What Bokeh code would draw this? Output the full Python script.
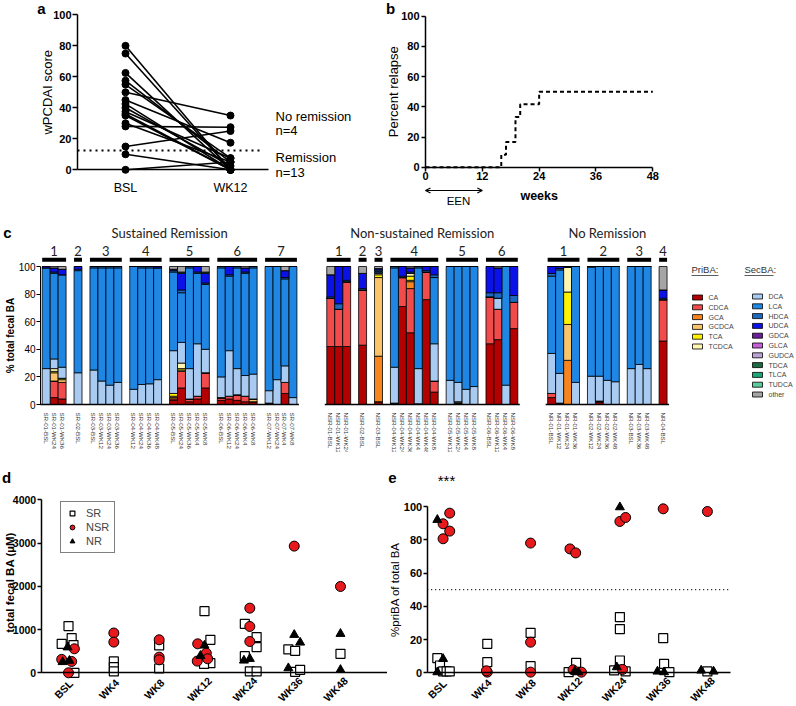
import math
from bokeh.plotting import figure
from bokeh.layouts import column, row
from bokeh.models import (Range1d, FixedTicker, Label, Arrow, OpenHead, ColumnDataSource,
                          Legend, LegendItem)
from bokeh.embed import file_html
from bokeh.resources import INLINE

FONT = "Liberation Sans"
CFONT = "Lato"

# ---------------- panel a data ----------------
A_TIMES = ["BSL", "WK12"]
A_BSL = [80, 75, 62.5, 57.5, 55, 50, 45, 42.5, 40, 37.5, 36, 35, 30, 28, 15, 10, 0]
A_WK12 = [0, 0, 0, 5, 7.5, 35, 17.5, 0, 2.5, 7.5, 0, 0, 5, 27.5, 25, 0, 5]
A_CUTOFF = 12.5

# ---------------- panel b data ----------------
B_WEEKS = [0, 16, 17, 19, 20, 24, 48]
B_RELAPSE = [0, 8.3, 16.7, 33.3, 41.7, 50, 50]
B_TICKS = [0, 12, 24, 36, 48]

# ---------------- panel c data ----------------
C_GROUPS = ["Sustained Remission", "Non-sustained Remission", "No Remission"]
C_PATIENT_SIZES = [[3, 1, 4, 4, 5, 5, 4], [3, 1, 1, 6, 4, 4], [4, 4, 3, 1]]
C_SAMPLES = [
    "SR-01-BSL", "SR-01-WK24", "SR-01-WK36", "SR-02-BSL",
    "SR-03-BSL", "SR-03-WK12", "SR-03-WK24", "SR-03-WK36",
    "SR-04-WK12", "SR-04-WK24", "SR-04-WK36", "SR-04-WK48",
    "SR-05-BSL", "SR-05-WK24", "SR-05-WK36", "SR-05-WK4", "SR-05-WK8",
    "SR-06-BSL", "SR-06-WK12", "SR-06-WK24", "SR-06-WK4", "SR-06-WK8",
    "SR-07-WK12", "SR-07-WK24", "SR-07-WK4", "SR-07-WK8",
    "NSR-01-BSL", "NSR-01-WK12", "NSR-01-WK24", "NSR-02-BSL", "NSR-03-BSL",
    "NSR-04-WK12", "NSR-04-WK24", "NSR-04-WK36", "NSR-04-WK4", "NSR-04-WK48", "NSR-04-WK8",
    "NSR-05-WK12", "NSR-05-WK24", "NSR-05-WK4", "NSR-05-WK8",
    "NSR-06-BSL", "NSR-06-WK12", "NSR-06-WK4", "NSR-06-WK8",
    "NR-01-BSL", "NR-01-WK12", "NR-01-WK24", "NR-01-WK36",
    "NR-02-WK12", "NR-02-WK24", "NR-02-WK36", "NR-02-WK48",
    "NR-03-BSL", "NR-03-WK36", "NR-03-WK48", "NR-04-BSL",
]
CA    = [0, 5, 4, 0, 0, 0, 0, 0, 0, 0, 0, 0, 3, 12, 2, 4, 12, 3, 4, 3, 2, 2, 1, 0, 8, 0,
         42, 42, 42, 43, 2, 1, 71, 52, 0.5, 76, 9, 0, 1, 0, 0, 44, 47, 0, 55,
         5, 1, 0, 0, 0, 1.5, 0, 0, 0, 0, 0, 46]
CDCA  = [0, 12, 12, 0, 0, 0, 0, 0, 0, 0, 0, 0, 1, 12, 2, 2, 11, 1.5, 2, 4, 4, 0, 0, 0, 8, 0,
         35, 27, 47, 40, 0, 0, 21, 32, 0, 20, 8, 0, 0, 0, 0, 34, 22, 0, 19,
         3, 0, 0, 0, 0, 1, 0, 0, 0, 0, 0, 30]
GCA   = [0, 0, 0, 0, 0, 0, 0, 0, 0, 0, 0, 0, 1, 0, 0, 0, 0, 0.5, 0, 0, 0, 0, 0, 0, 0, 0,
         0, 0, 0, 0, 33, 0, 0, 5, 0, 0, 0, 0, 0, 0, 0, 0, 0, 0, 0,
         0, 0, 32, 0, 0, 0, 0, 0, 0, 0, 0, 0]
GCDCA = [0, 6, 2, 0, 0, 0, 0, 0, 0, 0, 0, 0, 1, 1, 0, 0, 0, 0, 0, 0, 0, 2, 0, 0, 0, 0,
         0, 0, 0, 0, 57, 0, 0, 1, 0, 0, 0, 0, 1, 0, 0, 0, 0, 0, 0,
         0, 0, 26, 0, 0, 0, 0, 0, 0, 0, 0, 0]
TCA   = [0, 1, 1, 0, 0, 0, 0, 0, 0, 0, 0, 0, 2, 1, 0, 0, 0, 0, 0, 0, 0, 0, 0, 0, 0, 0,
         0, 0, 0, 0, 2, 0, 0, 3, 0, 0, 0, 0, 0, 0, 0, 0, 0, 0, 0,
         0, 0, 23.5, 0, 0, 0, 0, 0, 0, 0, 0, 0]
TCDCA = [0, 2, 0, 0, 0, 0, 0, 0, 0, 0, 0, 0, 0, 4, 0, 0, 0, 0, 0, 0, 0, 0, 0, 0, 0, 0,
         0, 0, 0, 0, 1, 0, 0, 2, 0, 0, 0, 0, 0, 0, 0, 0, 0, 0, 0,
         0, 0, 18, 0, 0, 0, 0, 0, 0, 0, 0, 0]
DCA   = [26, 7, 8, 23, 25, 17, 14, 16, 11, 14.5, 15, 18, 31, 15, 22, 38, 17, 15, 33, 19, 15, 18, 9, 18, 12, 5,
         0, 0, 0, 0, 0.5, 26, 0, 0, 25.5, 0, 27, 17.5, 14, 11, 13, 0, 8, 14, 0,
         29, 21.5, 0, 16, 20.5, 18, 17.5, 16.5, 26, 29, 26, 0]
LCA   = [73, 62, 67, 74, 74, 82, 85, 83, 89, 84.5, 84, 81, 57, 36, 73, 51, 47, 79, 54, 73, 74, 77, 90, 82, 63, 95,
         0, 0, 0, 0, 1, 72, 0, 0, 73, 0, 48, 82.5, 84, 89, 87, 0, 0, 86, 0,
         56, 75, 0, 84, 79, 79.5, 82.5, 83.5, 74, 71, 74, 0]
HDCA  = [0, 1, 0, 1, 1, 1, 1, 1, 0, 1, 1, 0, 1, 2, 1, 1, 1, 1, 1, 1, 1, 1, 0, 0, 1, 0,
         1, 4, 1, 1, 1, 1, 1, 1, 1, 1, 2, 0, 0, 0, 0, 3, 4, 0, 5,
         2, 1, 0.5, 0, 0.5, 0, 0, 0, 0, 0, 0, 1]
UDCA  = [1, 3, 4, 2, 0, 0, 0, 0, 0, 0, 0, 1, 1, 12, 0, 4, 7, 0, 6, 0, 3, 0, 0, 0, 5, 0,
         16, 27, 10, 11, 1, 0, 7, 3, 0, 3, 6, 0, 0, 0, 0, 19, 18, 0, 21,
         5, 1.5, 0, 0, 0, 0, 0, 0, 0, 0, 0, 6]
TDCA  = [0, 0, 0, 0, 0, 0, 0, 0, 0, 0, 0, 0, 0, 1, 0, 0, 1, 0, 0, 0, 0, 0, 0, 0, 0, 0,
         0, 0, 0, 0, 0, 0, 0, 0, 0, 0, 0, 0, 0, 0, 0, 0, 0, 0, 0,
         0, 0, 0, 0, 0, 0, 0, 0, 0, 0, 0, 0]
OTHER = [0, 1, 2, 0, 0, 0, 0, 0, 0, 0, 0, 0, 2, 4, 0, 0, 4, 0, 0, 0, 1, 0, 0, 0, 3, 0,
         6, 0, 0, 5, 1.5, 0, 0, 1, 0, 0, 0, 0, 0, 0, 0, 0, 1, 0, 0,
         0, 0, 0, 0, 0, 0, 0, 0, 0, 0, 0, 17]

PRI_NAMES = ["CA", "CDCA", "GCA", "GCDCA", "TCA", "TCDCA"]
SEC_NAMES = ["DCA", "LCA", "HDCA", "UDCA", "GDCA", "GLCA", "GUDCA", "TDCA", "TLCA", "TUDCA", "other"]

# ---------------- panel d / e data ----------------
TIMEPOINTS = ["BSL", "WK4", "WK8", "WK12", "WK24", "WK36", "WK48"]

D_SR_T = [0, 0, 0, 0, 0, 1, 1, 1, 2, 2, 3, 3, 3, 3, 4, 4, 4, 4, 4, 4, 5, 5, 5, 5, 6]
D_SR_J = [-0.15, 0, 0.07, 0.11, 0.13, 0, 0, 0, 0, 0, 0, 0.13, 0.13, -0.01,
          -0.11, 0.15, 0.15, -0.11, 0, 0.15, -0.15, 0, 0, 0.11, 0]
D_SR_V = [670, 1080, 800, 640, 0, 262, 131, 31, 632, 100, 1426, 763, 223, 208,
          1133, 825, 594, 385, 31, 31, 540, 509, 23, 69, 439]
D_NSR_T = [0, 0, 0, 0, 1, 1, 2, 2, 2, 3, 3, 3, 3, 4, 4, 4, 5, 6]
D_NSR_J = [-0.15, 0.07, 0.13, 0, 0, 0, 0, 0, 0, -0.15, 0.04, -0.16, 0.07, 0, 0, 0, -0.02, 0]
D_NSR_V = [310, 262, 555, 0, 920, 710, 763, 362, 300, 670, 455, 270, 324, 1495, 1071, 724, 2929, 1996]
D_NR_T = [0, 0, 0, 3, 3, 4, 4, 5, 5, 5, 6, 6]
D_NR_J = [-0.13, -0.02, 0.02, 0, -0.09, -0.13, 0, -0.02, 0.11, -0.15, 0, 0]
D_NR_V = [250, 590, 280, 632, 393, 285, 324, 879, 701, 108, 902, 69]

E_SR_T = [0, 0, 0, 0, 0, 1, 1, 2, 2, 3, 3, 4, 4, 4, 4, 4, 5, 5, 5, 6]
E_SR_J = [-0.11, -0.05, 0.02, 0.1, 0.17, 0.02, 0.02, 0, 0, 0.03, -0.14,
          0.02, 0.02, 0.02, -0.11, 0.15, 0, 0.02, 0.14, 0]
E_SR_V = [8.8, 4.4, 0.8, 0.8, 0.8, 17.4, 6.4, 24, 4, 6.0, 0.4,
          33.5, 26.3, 7.4, 1.4, 0.8, 20.8, 5.4, 0.4, 0.8]
E_NSR_T = [0, 0, 0, 0, 1, 1, 2, 2, 2, 3, 3, 3, 3, 4, 4, 4, 5, 6]
E_NSR_J = [0.02, 0.17, 0.17, 0.02, 0.02, 0, 0, 0, 0, -0.11, 0.02, -0.04, 0.15, 0.02, 0.15, 0.08, 0, 0]
E_NSR_V = [89.6, 96, 85.2, 80.6, 0.4, 1.2, 78, 18.4, 0.4, 74.5, 72.1, 1.8, 0.4, 91, 93.4, 2, 98.6, 97]
E_NR_T = [0, 0, 0, 3, 3, 4, 4, 5, 5, 6, 6]
E_NR_J = [-0.11, -0.11, 0.02, 0, 0.08, 0.02, -0.05, -0.13, 0.02, -0.14, 0.14]
E_NR_V = [92, 0.4, 8.4, 1.0, 0.4, 99.6, 3.4, 0.8, 0.4, 1.4, 0.8]
E_CUTOFF = 50

# ---------------- styles ----------------
C_COLORS = {
    "CA": "#B30000", "CDCA": "#F24B4B", "GCA": "#F7841E", "GCDCA": "#FAC46A",
    "TCA": "#FFF200", "TCDCA": "#FFF6B0", "DCA": "#A9CBF2", "LCA": "#1F86E3",
    "HDCA": "#1E69BE", "UDCA": "#0B12E8", "GDCA": "#6A1E9C", "GLCA": "#C85DD8",
    "GUDCA": "#BBA2D2", "TDCA": "#1D6B43", "TLCA": "#1FA57A", "TUDCA": "#5CCB9C",
    "other": "#A5A5A5",
}
RED = "#E8191C"


def lin(p0, v0, p1, v1):
    """pixel -> data mapping along one direction"""
    return lambda p: v0 + (p - p0) * (v1 - v0) / (p1 - p0)


def canvas_fig(w, h, fx, fy, left, top):
    # the frame covers the whole canvas; axes are placed inside it
    p = figure(width=w, height=h,
               x_range=Range1d(fx(left), fx(left + w)), y_range=Range1d(fy(top + h), fy(top)),
               min_border=0, min_border_left=0, min_border_right=0,
               min_border_top=0, min_border_bottom=0,
               output_backend="svg", toolbar_location=None)
    p.xgrid.visible = False
    p.ygrid.visible = False
    p.outline_line_color = None
    return p


def style_axes(p, size="11px", bold=True, lw=1.5):
    for ax in p.axis:
        ax.axis_line_width = lw
        ax.axis_line_color = "black"
        ax.major_tick_line_color = "black"
        ax.major_tick_line_width = lw
        ax.major_tick_in = 0
        ax.major_tick_out = 4
        ax.minor_tick_line_color = None
        ax.major_label_text_font = FONT
        ax.major_label_text_font_style = "bold" if bold else "normal"
        ax.major_label_text_font_size = size
        ax.major_label_text_color = "black"
        ax.major_label_standoff = 1


def label(p, x, y, text, size, bold=False, align="left", angle=0, color="black", font=FONT):
    p.add_layout(Label(x=x, y=y, text=text, text_font=font, text_font_size=size,
                       text_font_style="bold" if bold else "normal", text_align=align,
                       text_baseline="middle", angle=angle, text_color=color))


# ================= panel a =================
ax_, ay_ = lin(125, 0, 230, 1), lin(169.3, 0, 14.3, 100)
pa = canvas_fig(380, 218, ax_, ay_, 0, 0)
pa.multi_line([[0, 1] for _ in A_BSL], [[b, w] for b, w in zip(A_BSL, A_WK12)],
              line_color="black", line_width=1.6)
pa.scatter([0] * len(A_BSL), A_BSL, size=7, color="black")
pa.scatter([1] * len(A_WK12), A_WK12, size=7, color="black")
pa.segment(x0=ax_(77), y0=A_CUTOFF, x1=ax_(263), y1=A_CUTOFF, line_color="black",
           line_width=2, line_dash="2 4")
style_axes(pa)
pa.xaxis.fixed_location = 0
pa.xaxis.bounds = (ax_(77), ax_(268))
pa.xaxis.ticker = FixedTicker(ticks=[0, 1])
pa.xaxis.major_label_overrides = {i: t for i, t in enumerate(A_TIMES)}
pa.xaxis.major_tick_out = 0
pa.xaxis.major_label_standoff = 11
pa.xaxis.major_label_text_font_style = "normal"
pa.xaxis.major_label_text_font_size = "12.5px"
pa.yaxis.fixed_location = ax_(77)
pa.yaxis.bounds = (0, 100)
pa.yaxis.ticker = FixedTicker(ticks=[0, 20, 40, 60, 80, 100])
pa.yaxis.major_tick_out = 5
label(pa, ax_(46.5), 50, "wPCDAI score", "13px", align="center", angle=math.pi / 2)
label(pa, ax_(41), ay_(7.5), "a", "15px", bold=True, align="center")
label(pa, ax_(275), ay_(116), "No remission", "13px")
label(pa, ax_(275), ay_(130), "n=4", "13px")
label(pa, ax_(275), ay_(157), "Remission", "13px")
label(pa, ax_(275), ay_(172), "n=13", "13px")

# ================= panel b =================
bx_, by_ = lin(425, 0, 652.3, 48), lin(166.7, 0, 15.7, 100)
pb = canvas_fig(415, 218, bx_, by_, 380, 0)
pb.step(B_WEEKS, B_RELAPSE, mode="after", line_color="black", line_width=2, line_dash="4 3")
style_axes(pb)
pb.xaxis.fixed_location = 0
pb.xaxis.bounds = (0, 48)
pb.xaxis.ticker = FixedTicker(ticks=B_TICKS)
pb.yaxis.fixed_location = 0
pb.yaxis.bounds = (0, 100)
pb.yaxis.ticker = FixedTicker(ticks=[0, 20, 40, 60, 80, 100])
pb.yaxis.major_label_standoff = 2
label(pb, bx_(393), 50, "Percent relapse", "13px", align="center", angle=math.pi / 2)
label(pb, bx_(538.7), by_(195), "weeks", "12.5px", bold=True, align="center")
pb.add_layout(Arrow(start=OpenHead(size=5, line_width=1.2), end=OpenHead(size=5, line_width=1.2),
                    x_start=0, y_start=by_(190), x_end=12, y_end=by_(190), line_width=1.2))
label(pb, bx_(458), by_(200), "EEN", "11.5px", align="center")
label(pb, bx_(390), by_(7.5), "b", "15px", bold=True, align="center")

# ================= panel c =================
BAR, PAT_GAP, GROUP_GAP = 4, 4, 15
centers, pat_spans, group_spans = [], [], []
pos = 0
for gi, sizes in enumerate(C_PATIENT_SIZES):
    gstart = pos
    for pi, n in enumerate(sizes):
        pstart = pos
        for _ in range(n):
            centers.append(pos + BAR // 2)
            pos += BAR
        pat_spans.append((pi + 1, pstart, pos))
        pos += PAT_GAP
    pos -= PAT_GAP
    group_spans.append((gstart, pos))
    pos += GROUP_GAP

stack_names = ["CA", "CDCA", "GCA", "GCDCA", "TCA", "TCDCA", "DCA", "LCA", "HDCA", "UDCA", "TDCA", "other"]
stack_vals = [CA, CDCA, GCA, GCDCA, TCA, TCDCA, DCA, LCA, HDCA, UDCA, TDCA, OTHER]
src = ColumnDataSource(dict(x=centers, **{n: v for n, v in zip(stack_names, stack_vals)}))

cx_, cy_ = lin(41.7, 0, 41.7 + 1.99, 1), lin(404, 0, 266, 100)
pc = canvas_fig(795, 234, cx_, cy_, 0, 218)
pc.vbar_stack(stack_names, x="x", width=BAR, source=src,
              fill_color=[C_COLORS[n] for n in stack_names], line_color="black", line_width=0.8)
style_axes(pc, size="10px", bold=False, lw=1)
pc.yaxis.fixed_location = cx_(40)
pc.yaxis.bounds = (0, 100)
pc.yaxis.ticker = FixedTicker(ticks=[0, 20, 40, 60, 80, 100])
pc.xaxis.fixed_location = 0
pc.xaxis.ticker = FixedTicker(ticks=centers)
pc.xaxis.major_label_overrides = {c: s for c, s in zip(centers, C_SAMPLES)}
pc.xaxis.major_label_orientation = "vertical"
pc.xaxis.axis_line_color = None
pc.xaxis.major_tick_line_color = None
pc.xaxis.major_label_text_font_size = "6.2px"
pc.xaxis.major_label_text_color = "#333333"
pc.xaxis.major_label_standoff = 4
label(pc, cx_(10), 50, "% total fecal BA", "10px", bold=True, align="center", angle=math.pi / 2)
for gs, ge in group_spans:
    pc.segment(x0=gs - 1, y0=0, x1=ge + 1, y1=0, line_color="black", line_width=1.5)
for (num, ps, pe_) in pat_spans:
    pc.segment(x0=ps, y0=cy_(259.3), x1=pe_, y1=cy_(259.3), line_color="black",
               line_width=4, line_cap="butt")
    label(pc, (ps + pe_) / 2, cy_(250.5), str(num), "13px", align="center", font=CFONT, color="#222222")
for name, (gs, ge) in zip(C_GROUPS, group_spans):
    label(pc, (gs + ge) / 2, cy_(232.5), name, "13px", align="center", font=CFONT, color="#222222")
label(pc, cx_(7), cy_(231.7), "c", "15px", bold=True, align="center")

# legend of panel c
label(pc, cx_(691), cy_(269), "PriBA:", "9.5px", color="#333333")
label(pc, cx_(744), cy_(269), "SecBA:", "9.5px", color="#333333")
pc.segment(x0=[cx_(691), cx_(744)], y0=[cy_(275), cy_(275)], x1=[cx_(718), cx_(773)],
           y1=[cy_(275), cy_(275)], line_color="#333333", line_width=0.8)
SW_W, SW_H, ROW = 10 / 1.99, 5 / 1.38, 9.8
pri_y = [cy_(297 + i * ROW) for i in range(len(PRI_NAMES))]
sec_y = [cy_(296 + i * ROW) for i in range(len(SEC_NAMES))]
pc.rect(x=[cx_(697)] * len(PRI_NAMES), y=pri_y, width=SW_W, height=SW_H,
        fill_color=[C_COLORS[n] for n in PRI_NAMES], line_color="black", line_width=0.8)
pc.rect(x=[cx_(757)] * len(SEC_NAMES), y=sec_y, width=SW_W, height=SW_H,
        fill_color=[C_COLORS[n] for n in SEC_NAMES], line_color="black", line_width=0.8)
for n, y in zip(PRI_NAMES, pri_y):
    label(pc, cx_(708), y, n, "7px", color="#444444")
for n, y in zip(SEC_NAMES, sec_y):
    label(pc, cx_(768), y, n, "7px", color="#444444")

# ================= panel d =================
dx_, dy_ = lin(68, 0, 113.33, 1), lin(672.3, 0, 499.3, 4000)
pd_ = canvas_fig(387, 253, dx_, dy_, 0, 452)
r_sr = pd_.scatter([t + j for t, j in zip(D_SR_T, D_SR_J)], D_SR_V, marker="square", size=9,
                   fill_color="white", line_color="black", line_width=1.2)
r_nsr = pd_.scatter([t + j for t, j in zip(D_NSR_T, D_NSR_J)], D_NSR_V, marker="circle", size=10,
                    fill_color=RED, line_color="black", line_width=1)
r_nr = pd_.scatter([t + j for t, j in zip(D_NR_T, D_NR_J)], D_NR_V, marker="triangle", size=9,
                   fill_color="black", line_color="black")
style_axes(pd_, size="10.5px")
pd_.xaxis.fixed_location = 0
pd_.xaxis.bounds = (dx_(40.7), dx_(387))
pd_.xaxis.ticker = FixedTicker(ticks=[])
pd_.yaxis.fixed_location = dx_(40.7)
pd_.yaxis.bounds = (0, 4000)
pd_.yaxis.ticker = FixedTicker(ticks=[0, 1000, 2000, 3000, 4000])
for i, t in enumerate(TIMEPOINTS):
    label(pd_, i - 5 / 45.33, dy_(688.5), t, "10.5px", bold=True, align="center", angle=math.pi / 4)
leg = Legend(items=[LegendItem(label="SR", renderers=[r_sr]),
                    LegendItem(label="NSR", renderers=[r_nsr]),
                    LegendItem(label="NR", renderers=[r_nr])],
             location=(60, 705 - 553), border_line_color="black", border_line_width=1,
             padding=5, spacing=2, margin=0, glyph_width=12, glyph_height=12,
             label_standoff=8, label_text_font=FONT, label_text_font_size="11px",
             label_height=12)
pd_.add_layout(leg)
label(pd_, dx_(9.5), dy_(582), "total fecal BA (\u00b5M)", "11.5px", bold=True, align="center",
      angle=math.pi / 2)
label(pd_, dx_(6), dy_(477), "d", "15px", bold=True, align="center")

# ================= panel e =================
ex_, ey_ = lin(441.7, 0, 485.9, 1), lin(672.3, 0, 506, 100)
pe = canvas_fig(408, 253, ex_, ey_, 387, 452)
pe.segment(x0=ex_(426.7), y0=E_CUTOFF, x1=ex_(730), y1=E_CUTOFF, line_color="black",
           line_width=1.2, line_dash="1 3")
pe.scatter([t + j for t, j in zip(E_SR_T, E_SR_J)], E_SR_V, marker="square", size=9,
           fill_color="white", line_color="black", line_width=1.2)
pe.scatter([t + j for t, j in zip(E_NSR_T, E_NSR_J)], E_NSR_V, marker="circle", size=10,
           fill_color=RED, line_color="black", line_width=1)
pe.scatter([t + j for t, j in zip(E_NR_T, E_NR_J)], E_NR_V, marker="triangle", size=9,
           fill_color="black", line_color="black")
style_axes(pe)
pe.xaxis.fixed_location = 0
pe.xaxis.bounds = (ex_(426.7), ex_(730))
pe.xaxis.ticker = FixedTicker(ticks=[])
pe.yaxis.fixed_location = ex_(426.7)
pe.yaxis.bounds = (0, 100)
pe.yaxis.ticker = FixedTicker(ticks=[0, 20, 40, 60, 80, 100])
for i, t in enumerate(TIMEPOINTS):
    label(pe, i - 5 / 44.2, ey_(688.5), t, "10.5px", bold=True, align="center", angle=math.pi / 4)
label(pe, ex_(394), 50, "%priBA of total BA", "11.5px", align="center", angle=math.pi / 2)
label(pe, ex_(446), ey_(480), "***", "15px", align="center")
label(pe, ex_(392), ey_(477.5), "e", "15px", bold=True, align="center")

layout = column(row(pa, pb), pc, row(pd_, pe))
open("out.html", "w").write(file_html(layout, INLINE))
